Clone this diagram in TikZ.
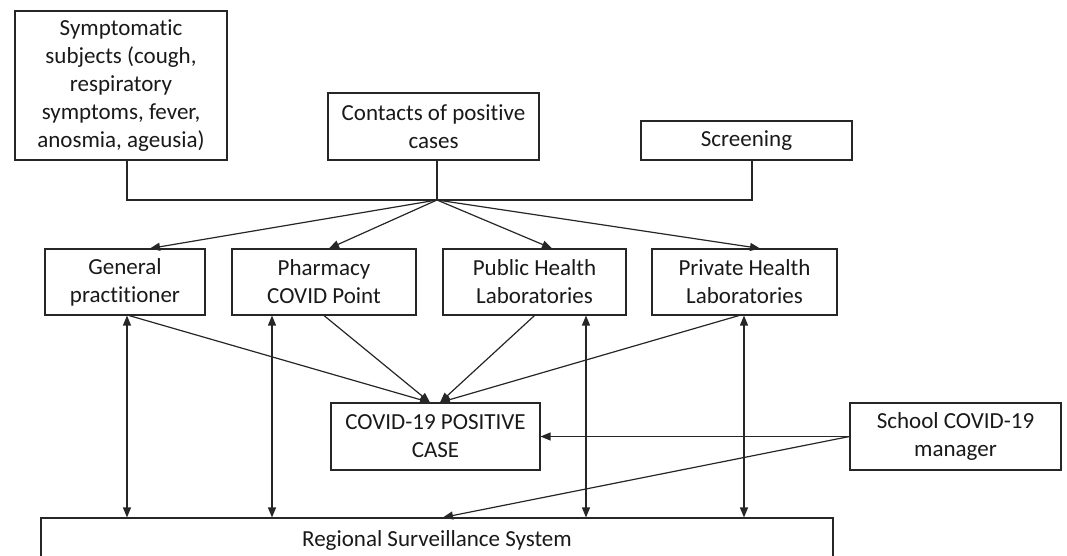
\documentclass[tikz,border=0pt]{standalone}
\usepackage{fontspec}
\setmainfont{Carlito}[Ligatures=NoCommon]
\usetikzlibrary{arrows.meta,calc}
\begin{document}
\begin{tikzpicture}[x=1pt,y=-1pt,
  box/.style={draw=black!85,line width=1.1pt,rectangle,inner sep=0pt,align=center,
    font=\fontsize{23}{28}\selectfont,text=black!90},
  conn/.style={draw=black!85,line width=1.2pt},
  arr/.style={conn,-{Triangle[length=10pt,width=8pt]}},
  darr/.style={conn,{Triangle[length=10pt,width=8pt]}-{Triangle[length=10pt,width=8pt]}}]
\useasboundingbox (0,0) rectangle (1067,556);
\clip (0,0) rectangle (1067,556);
\node[box,minimum width=212pt,minimum height=149pt] (sym) at (121,85.5)
  {Symptomatic\\subjects (cough,\\respiratory\\symptoms, fever,\\anosmia, ageusia)};
\node[box,minimum width=211pt,minimum height=67pt] (con) at (433.5,126.5)
  {Contacts of positive\\cases};
\node[box,minimum width=211pt,minimum height=39pt] (scr) at (746.5,140.5) {Screening};
\node[box,minimum width=160pt,minimum height=66pt] (gp) at (125,282) {General\\practitioner};
\node[box,minimum width=184pt,minimum height=66pt] (ph) at (324,282) {Pharmacy\\COVID Point};
\node[box,minimum width=183pt,minimum height=66pt] (pub) at (534.5,282) {Public Health\\Laboratories};
\node[box,minimum width=185pt,minimum height=66pt] (pri) at (744.5,282) {Private Health\\Laboratories};
\node[box,minimum width=209pt,minimum height=67pt] (cov) at (435.5,436.5) {COVID-19 POSITIVE\\CASE};
\node[box,minimum width=211pt,minimum height=67pt] (sch) at (955.5,436.5) {School COVID-19\\manager};
\node[box,minimum width=792pt,minimum height=44pt] (reg) at (437,540) {Regional Surveillance System};
% top collector
\coordinate (J) at (437,200);
\draw[conn] ([xshift=6pt]sym.south) |- (J);
\draw[conn] ([xshift=3.5pt]con.south) -- (J);
\draw[conn] ([xshift=5.5pt]scr.south) |- (J);
\draw[arr] (J) -- ([xshift=25pt]gp.north);
\draw[arr] (J) -- ([xshift=5pt]ph.north);
\draw[arr] (J) -- ([xshift=17.5pt]pub.north);
\draw[arr] (J) -- ([xshift=15.5pt]pri.north);
% to positive case
\draw[arr] ([xshift=4pt]gp.south) -- ([xshift=-5.5pt]cov.north);
\draw[arr] (ph.south) -- ([xshift=-5.5pt]cov.north);
\draw[arr] (pub.south) -- ([xshift=4.5pt]cov.north);
\draw[arr] ([xshift=-5.5pt]pri.south) -- ([xshift=4.5pt]cov.north);
% double arrows to regional system
\coordinate (d1) at ([xshift=2pt]gp.south);
\coordinate (d2) at ([xshift=-52pt]ph.south);
\coordinate (d3) at ([xshift=51.5pt]pub.south);
\coordinate (d4) at ([xshift=-0.5pt]pri.south);
\draw[darr] (d1) -- (d1 |- reg.north);
\draw[darr] (d2) -- (d2 |- reg.north);
\draw[darr] (d3) -- (d3 |- reg.north);
\draw[darr] (d4) -- (d4 |- reg.north);
% school manager
\draw[arr] (sch.west) -- (cov.east);
\draw[arr] (sch.west) -- ([xshift=6pt]reg.north);
\end{tikzpicture}
\end{document}
